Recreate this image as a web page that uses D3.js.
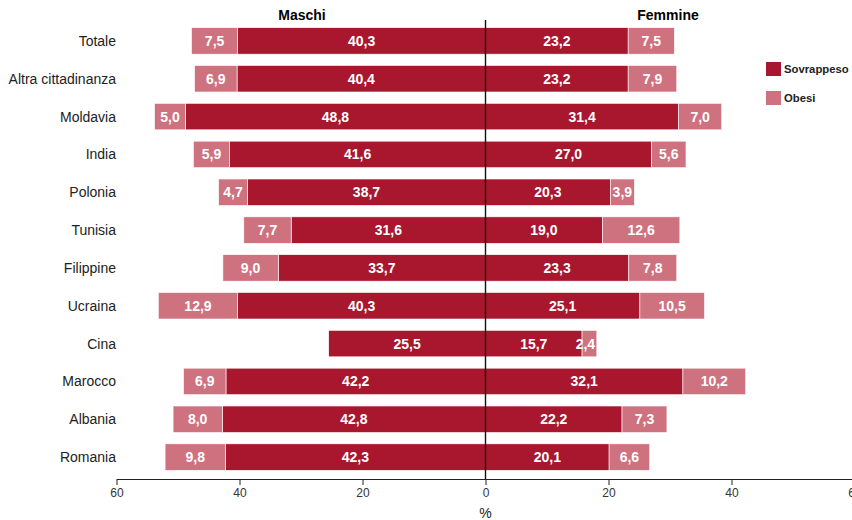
<!DOCTYPE html>
<html><head><meta charset="utf-8">
<script src="https://cdn.jsdelivr.net/npm/d3@7"></script>
<style>body{margin:0;background:#fff}svg{display:block}text{font-family:"Liberation Sans Narrow","Liberation Sans",Arial,sans-serif}</style>
</head><body><svg id="c" width="852" height="520"></svg>
<script>
const categories = ["Totale","Altra cittadinanza","Moldavia","India","Polonia","Tunisia","Filippine","Ucraina","Cina","Marocco","Albania","Romania"];
const maschiSovrappeso = [40.3,40.4,48.8,41.6,38.7,31.6,33.7,40.3,25.5,42.2,42.8,42.3];
const maschiObesi      = [7.5,6.9,5.0,5.9,4.7,7.7,9.0,12.9,0,6.9,8.0,9.8];
const femmineSovrappeso= [23.2,23.2,31.4,27.0,20.3,19.0,23.3,25.1,15.7,32.1,22.2,20.1];
const femmineObesi     = [7.5,7.9,7.0,5.6,3.9,12.6,7.8,10.5,2.4,10.2,7.3,6.6];
const tickValues = [-60,-40,-20,0,20,40,60];
const seriesNames = ["Sovrappeso","Obesi"];
const colors = ["#a8172e","#cf727f"];

const svg = d3.select("#c");
const x = d3.scaleLinear().domain([-60,60]).range([116.5,854.5]);
const y = d3.scaleBand().domain(categories).range([22,476]).paddingInner(0.3).paddingOuter(0.15);
const fmt = v => d3.format(".1f")(v).replace(".",",");

const rows = categories.map((c,i)=>[
  {c, x0:-maschiSovrappeso[i], x1:0, v:maschiSovrappeso[i], s:0},
  {c, x0:-maschiSovrappeso[i]-maschiObesi[i], x1:-maschiSovrappeso[i], v:maschiObesi[i], s:1},
  {c, x0:0, x1:femmineSovrappeso[i], v:femmineSovrappeso[i], s:0},
  {c, x0:femmineSovrappeso[i], x1:femmineSovrappeso[i]+femmineObesi[i], v:femmineObesi[i], s:1}
]).flat().filter(d=>d.v>0);

svg.append("g").selectAll("rect").data(rows).join("rect")
  .attr("x",d=>x(d.x0)).attr("width",d=>x(d.x1)-x(d.x0))
  .attr("y",d=>y(d.c)).attr("height",y.bandwidth())
  .attr("fill",d=>colors[d.s]).attr("stroke","#fff").attr("stroke-width",0.6);

svg.append("g").selectAll("text").data(rows).join("text")
  .attr("x",d=>(x(d.x0)+x(d.x1))/2 - (d.v<3?4:0)).attr("y",d=>y(d.c)+y.bandwidth()/2)
  .attr("dy","0.36em").attr("text-anchor","middle")
  .attr("fill","#fff").attr("font-weight","bold").attr("font-size",14)
  .text(d=>fmt(d.v));

// category labels
svg.append("g").selectAll("text").data(categories).join("text")
  .attr("x",116).attr("y",d=>y(d)+y.bandwidth()/2).attr("dy","0.36em")
  .attr("text-anchor","end").attr("font-size",14).attr("fill","#222").text(d=>d);

// zero line
svg.append("line").attr("x1",x(0)).attr("x2",x(0)).attr("y1",20).attr("y2",479)
  .attr("stroke","#111").attr("stroke-width",1.4);

// axis
const axis = d3.axisBottom(x).tickValues(tickValues).tickFormat(d=>Math.abs(d)).tickSize(6).tickSizeOuter(0);
const ag = svg.append("g").attr("transform","translate(0,479)").call(axis);
ag.select(".domain").attr("stroke","#222").attr("stroke-width",1.2);
ag.selectAll(".tick line").attr("stroke","#222");
ag.selectAll(".tick text").attr("font-size",12).attr("fill","#333").attr("font-family","Liberation Sans Narrow, Liberation Sans, Arial");
svg.append("text").attr("x",x(0)).attr("y",518).attr("text-anchor","middle").attr("font-size",14).attr("fill","#222").text("%");

// headers
svg.append("text").attr("x",302).attr("y",20).attr("text-anchor","middle").attr("font-weight","bold").attr("font-size",14).text("Maschi");
svg.append("text").attr("x",668).attr("y",20).attr("text-anchor","middle").attr("font-weight","bold").attr("font-size",14).text("Femmine");

// legend
const lg = svg.append("g").selectAll("g").data(seriesNames).join("g")
  .attr("transform",(d,i)=>`translate(766,${62+i*29})`);
lg.append("rect").attr("width",15).attr("height",14).attr("fill",(d,i)=>colors[i]);
lg.append("text").attr("x",18).attr("y",7).attr("dy","0.36em").attr("font-size",11.3).attr("font-weight","bold").attr("fill","#222").text(d=>d);
</script></body></html>
